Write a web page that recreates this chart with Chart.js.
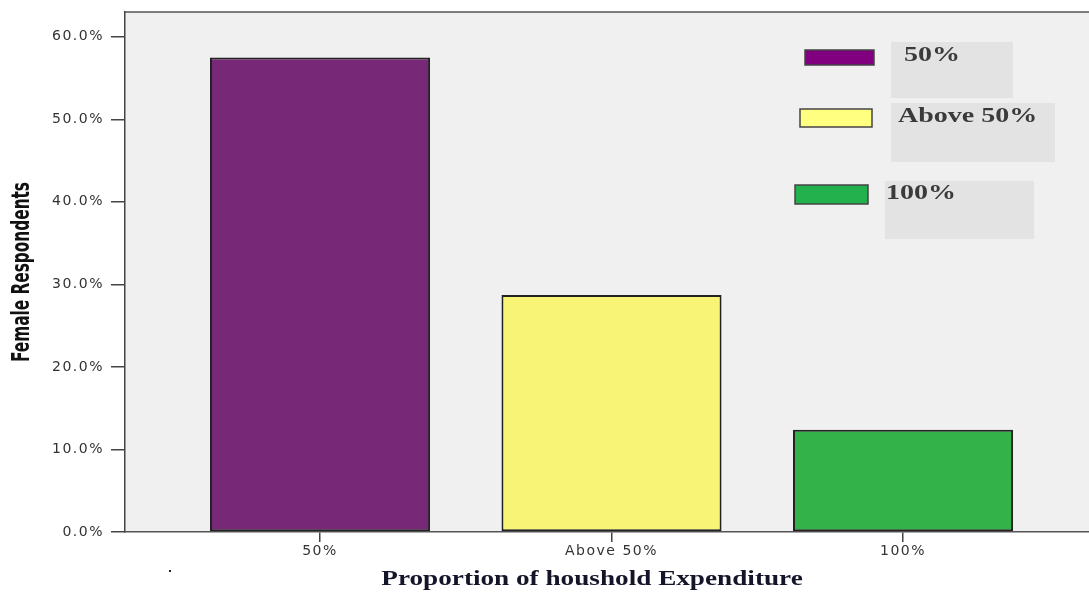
<!DOCTYPE html>
<html>
<head>
<meta charset="utf-8">
<script src="https://cdn.jsdelivr.net/npm/chart.js@4.4.1/dist/chart.umd.min.js"></script>
<style>
    body { margin: 0; background: #fff; }
    #wrap { width: 1089px; height: 592px; }
</style>
</head>
<body>
<div id="wrap"><canvas id="resultsChart"></canvas></div>
<script>
const categories = ['50%', 'Above 50%', '100%'];
const respondents = [57.5, 28.7, 12.4];
const yTicks = [0, 10, 20, 30, 40, 50, 60];
const positions = [0, 1, 2];

const barColors = ['#772877', '#f8f475', '#33b24a'];
const swatchColors = ['#800080', '#ffff80', '#22b14c'];

// legend boxes are hand placed like the original
const legendSpots = [
    { bg: [891, 42, 122, 56], box: [805, 50, 69, 15], text: [904, 61] },
    { bg: [891, 103, 164, 59], box: [800, 109, 72, 18], text: [898, 122] },
    { bg: [885, 181, 149, 58], box: [795, 185, 73, 19], text: [886, 199] }
];

// the source picture is stretched sideways, so text gets squeezed to fit
function stretchedText(ctx, text, x, y, sx) {
    ctx.save();
    ctx.translate(x, y);
    ctx.scale(sx, 1);
    ctx.fillText(text, 0, 0);
    ctx.restore();
}

const backdrop = {
    id: 'backdrop',
    beforeDraw(chart) {
        const { ctx, chartArea } = chart;
        ctx.save();
        ctx.fillStyle = '#ffffff';
        ctx.fillRect(0, 0, chart.width, chart.height);
        ctx.fillStyle = '#f0f0f0';
        ctx.fillRect(chartArea.left, chartArea.top, chartArea.right - chartArea.left, chartArea.bottom - chartArea.top);
        ctx.strokeStyle = '#555';
        ctx.lineWidth = 1.5;
        ctx.beginPath();
        ctx.moveTo(chartArea.left, chartArea.top);
        ctx.lineTo(chartArea.right, chartArea.top);
        ctx.stroke();
        ctx.restore();
        ctx.letterSpacing = '1.5px';
    },
    afterDraw(chart) {
        const { ctx, chartArea } = chart;
        ctx.save();
        ctx.letterSpacing = '0px';

        // y title, squeezed to the original length
        ctx.fillStyle = '#111';
        ctx.font = 'bold 24px "Liberation Sans Narrow", "DejaVu Sans Condensed", sans-serif';
        ctx.textAlign = 'center';
        ctx.textBaseline = 'middle';
        const yTitle = 'Female Respondents';
        const w = ctx.measureText(yTitle).width;
        ctx.save();
        ctx.translate(23, 272);
        ctx.rotate(-Math.PI / 2);
        ctx.scale(180 / w, 1);
        ctx.fillText(yTitle, 0, 0);
        ctx.restore();

        // x title
        ctx.fillStyle = '#15152a';
        ctx.font = 'bold 20px "Liberation Serif", "Times New Roman", serif';
        ctx.textBaseline = 'alphabetic';
        stretchedText(ctx, 'Proportion of houshold Expenditure', 592, 585, 1.36);

        // stray speck under the axis in the original
        ctx.fillStyle = '#222';
        ctx.fillRect(169, 570, 2, 2);

        // legend
        ctx.textAlign = 'left';
        ctx.font = 'bold 20px "Liberation Serif", "Times New Roman", serif';
        categories.forEach((cat, i) => {
            const spot = legendSpots[i];
            ctx.fillStyle = '#e3e3e3';
            ctx.fillRect(...spot.bg);
            ctx.fillStyle = swatchColors[i];
            ctx.fillRect(...spot.box);
            ctx.strokeStyle = '#444';
            ctx.lineWidth = 1.5;
            ctx.strokeRect(...spot.box);
            ctx.fillStyle = '#3a3a3a';
            stretchedText(ctx, cat, spot.text[0], spot.text[1], 1.4);
        });
        ctx.restore();
    }
};

const ctx = document.getElementById('resultsChart').getContext('2d');
// eslint-disable-next-line no-undef
new Chart(ctx, {
    type: 'bar',
    data: {
        datasets: [{
            label: 'Female Respondents',
            data: positions.map((p, i) => ({ x: p, y: respondents[i] })),
            backgroundColor: barColors,
            borderColor: '#222',
            borderWidth: 2,
            borderSkipped: false,
            categoryPercentage: 1,
            barPercentage: 0.755
        }]
    },
    options: {
        responsive: true,
        maintainAspectRatio: false,
        animation: false,
        layout: { padding: { left: 0, top: 12, right: 0, bottom: 0 } },
        plugins: {
            legend: { display: false },
            tooltip: { enabled: false }
        },
        scales: {
            x: {
                type: 'linear',
                offset: false,
                min: -0.669,
                max: 2.638,
                afterBuildTicks(scale) {
                    scale.ticks = positions.map(v => ({ value: v }));
                },
                afterFit(scale) {
                    scale.height = 60;
                    scale.paddingLeft = 0;
                    scale.paddingRight = 0;
                },
                ticks: {
                    callback: (v) => categories[v],
                    font: { family: '"DejaVu Sans", sans-serif', size: 14 },
                    color: '#333',
                    padding: 1,
                    maxRotation: 0,
                    autoSkip: false
                },
                grid: {
                    offset: false,
                    drawOnChartArea: false,
                    drawTicks: true,
                    tickLength: 10,
                    color: '#444',
                    lineWidth: 1.5
                },
                border: { display: true, color: '#555', width: 1.5 }
            },
            y: {
                min: 0,
                max: 63,
                afterBuildTicks(scale) {
                    scale.ticks = yTicks.map(v => ({ value: v }));
                },
                afterFit(scale) {
                    scale.width = 125;
                    scale.paddingTop = 0;
                    scale.paddingBottom = 0;
                },
                ticks: {
                    callback: (v) => v.toFixed(1) + '%',
                    font: { family: '"DejaVu Sans", sans-serif', size: 14 },
                    color: '#333',
                    padding: 7
                },
                grid: {
                    drawOnChartArea: false,
                    drawTicks: true,
                    tickLength: 14,
                    color: '#444',
                    lineWidth: 1.5
                },
                border: { display: true, color: '#444', width: 1.5 }
            }
        }
    },
    plugins: [backdrop]
});
</script>
</body>
</html>
